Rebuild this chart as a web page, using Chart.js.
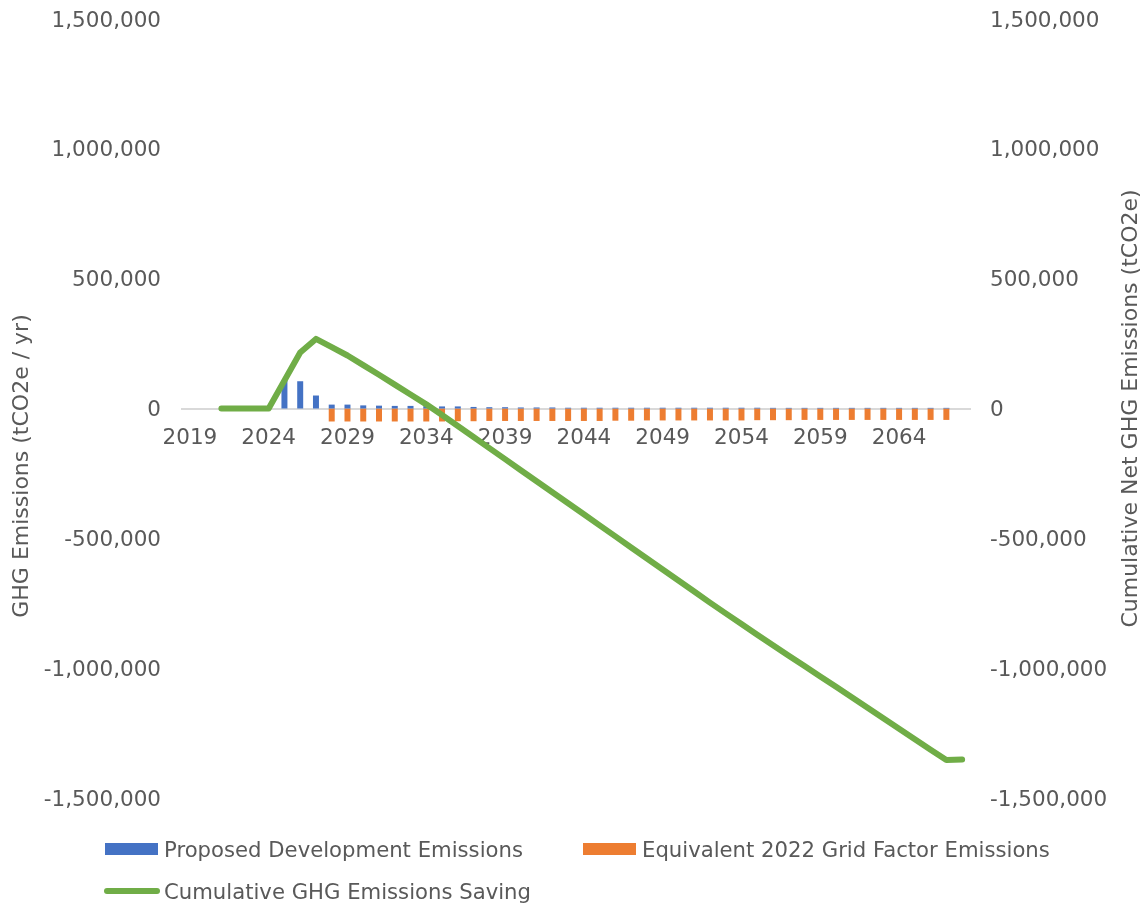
<!DOCTYPE html>
<html>
<head>
<meta charset="utf-8">
<script src="https://cdn.jsdelivr.net/npm/chart.js@4.4.1/dist/chart.umd.min.js"></script>
<style>
  html, body { margin: 0; padding: 0; background: #ffffff; }
  #wrap { position: relative; width: 1148px; height: 906px; overflow: hidden; }
  #c { position: absolute; left: 0; top: 0; }
  .leg { position: absolute; display: flex; align-items: center; height: 30px;
         font: 21.2px "DejaVu Sans"; color: #595959; white-space: nowrap; }
  .sw { display: inline-block; margin-right: 6px; }
</style>
</head>
<body>
<div id="wrap">
  <canvas id="c" width="1148" height="906"></canvas>
</div>
<script>
// ---------------- data ----------------
const years = [
  "2019","2020","2021","2022","2023","2024","2025","2026","2027","2028",
  "2029","2030","2031","2032","2033","2034","2035","2036","2037","2038",
  "2039","2040","2041","2042","2043","2044","2045","2046","2047","2048",
  "2049","2050","2051","2052","2053","2054","2055","2056","2057","2058",
  "2059","2060","2061","2062","2063","2064","2065","2066","2067","2068"
];

const proposedEmissions = [
  null, null, null, null, null, null, 108000, 105000, 50000, 15000,
  15000, 12000, 11000, 10000, 10000, 9000, 8000, 8000, 6000, 5000,
  5000, 4000, 4000, 4000, 3000, 3000, 3000, 3000, 3000, 3000,
  3000, 3000, 3000, 3000, 3000, 3000, 3000, 2500, 2500, 2500,
  2500, 2500, 2500, 2500, 2500, 2500, 2500, 2500, 2500, null
];

const gridFactorEmissions = [
  null, null, null, null, null, null, null, null, null, -50000,
  -50000, -50000, -50000, -50000, -50000, -50000, -50000, -49000, -49000, -48000,
  -48000, -48000, -48000, -48000, -48000, -48000, -48000, -47000, -47000, -46000,
  -46000, -46000, -46000, -46000, -46000, -46000, -45000, -45000, -45000, -44000,
  -44000, -44000, -44000, -44000, -44000, -44000, -44000, -44000, -44000, null
];

const cumulativeSaving = [
  null, null, 0, 0, 0, 0, 108000, 216000, 268000, 236000,
  204000, 167000, 130000, 92000, 54000, 16000, -25000, -67500, -110000, -152500,
  -195000, -237500, -280000, -322500, -365000, -407500, -450000, -492500, -535000, -577500,
  -620000, -662500, -705000, -747500, -789000, -830000, -871000, -911500, -952000, -992000,
  -1032000, -1072000, -1112000, -1152500, -1193000, -1233000, -1273500, -1314000, -1354000, -1352000
];

const yTicks = [-1500000, -1000000, -500000, 0, 500000, 1000000, 1500000];
const xLabelEvery = 5;

const seriesNames = [
  "Proposed Development Emissions",
  "Equivalent 2022 Grid Factor Emissions",
  "Cumulative GHG Emissions Saving"
];
const seriesColors = ["#4472C4", "#ED7D31", "#70AD47"];
const leftTitle = "GHG Emissions (tCO2e / yr)";
const rightTitle = "Cumulative Net GHG Emissions (tCO2e)";

// ---------------- styling ----------------
const TEXT = "#595959";
const FONT = { family: "DejaVu Sans", size: 21.5 };
Chart.defaults.font.family = "DejaVu Sans";

const fmt = v => Number(v).toLocaleString("en-US");

const axisTitles = {
  id: "axisTitles",
  afterDraw(chart) {
    const ctx = chart.ctx;
    ctx.save();
    ctx.fillStyle = TEXT;
    ctx.font = '22px "DejaVu Sans"';
    ctx.textAlign = "center";
    ctx.textBaseline = "middle";
    const area = chart.chartArea;
    const items = [
      [22, 466, leftTitle],
      [1131, (area.top + area.bottom) / 2, rightTitle]
    ];
    items.forEach(([x, y, t]) => {
      ctx.save();
      ctx.translate(x, y);
      ctx.rotate(-Math.PI / 2);
      ctx.fillText(t, 0, 0);
      ctx.restore();
    });
    ctx.restore();
  }
};

function yAxis(pos, width, pad) {
  return {
    position: pos,
    min: yTicks[0],
    max: yTicks[yTicks.length - 1],
    stacked: pos === "left",
    afterBuildTicks: s => { s.ticks = yTicks.map(v => ({ value: v })); },
    ticks: { color: TEXT, font: FONT, padding: pad, labelOffset: 2, callback: v => fmt(v) },
    grid: { display: false, drawTicks: false },
    border: { display: false },
    afterFit: s => { s.width = width; s.paddingTop = 0; s.paddingBottom = 0; }
  };
}

new Chart(document.getElementById("c"), {
  data: {
    labels: years,
    datasets: [
      {
        type: "line",
        label: seriesNames[2],
        data: cumulativeSaving,
        yAxisID: "y1",
        borderColor: seriesColors[2],
        backgroundColor: seriesColors[2],
        borderWidth: 6,
        borderCapStyle: "round",
        borderJoinStyle: "round",
        pointRadius: 0,
        tension: 0,
        fill: false,
        order: 0
      },
      {
        type: "bar",
        label: seriesNames[0],
        data: proposedEmissions,
        yAxisID: "y",
        backgroundColor: seriesColors[0],
        barPercentage: 0.38,
        categoryPercentage: 1.0,
        stack: "s",
        order: 1
      },
      {
        type: "bar",
        label: seriesNames[1],
        data: gridFactorEmissions,
        yAxisID: "y",
        backgroundColor: seriesColors[1],
        barPercentage: 0.38,
        categoryPercentage: 1.0,
        stack: "s",
        order: 2
      }
    ]
  },
  options: {
    responsive: false,
    animation: false,
    layout: { padding: { top: 19, bottom: 108, left: 0, right: 0 } },
    plugins: { legend: { display: false }, tooltip: { enabled: false } },
    scales: {
      x: {
        type: "category",
        position: { y: 0 },
        stacked: true,
        offset: true,
        grid: { display: false, drawTicks: false },
        border: { display: true, color: "#D9D9D9", width: 2 },
        ticks: {
          autoSkip: false, maxRotation: 0, minRotation: 0, padding: 17,
          color: TEXT, font: FONT,
          callback: (v, i) => (i % xLabelEvery === 0 ? years[i] : "")
        },
        afterFit: s => { s.height = 0; s.paddingLeft = 0; s.paddingRight = 0; }
      },
      y: yAxis("left", 182, 21),
      y1: yAxis("right", 178, 20)
    }
  },
  plugins: [axisTitles]
});

// ---------------- HTML legend ----------------
const wrap = document.getElementById("wrap");
const legendItems = [
  { i: 0, left: 105, top: 834, kind: "bar" },
  { i: 1, left: 583, top: 834, kind: "bar" },
  { i: 2, left: 104, top: 876, kind: "line" }
];
legendItems.forEach(it => {
  const d = document.createElement("div");
  d.className = "leg";
  d.style.left = it.left + "px";
  d.style.top = it.top + "px";
  const sw = document.createElement("span");
  sw.className = "sw";
  sw.style.background = seriesColors[it.i];
  if (it.kind === "bar") {
    sw.style.width = "53px"; sw.style.height = "12px";
  } else {
    sw.style.width = "56px"; sw.style.height = "6px"; sw.style.borderRadius = "3px";
    sw.style.marginRight = "4px";
  }
  d.appendChild(sw);
  d.appendChild(document.createTextNode(seriesNames[it.i]));
  wrap.appendChild(d);
});
</script>
</body>
</html>
